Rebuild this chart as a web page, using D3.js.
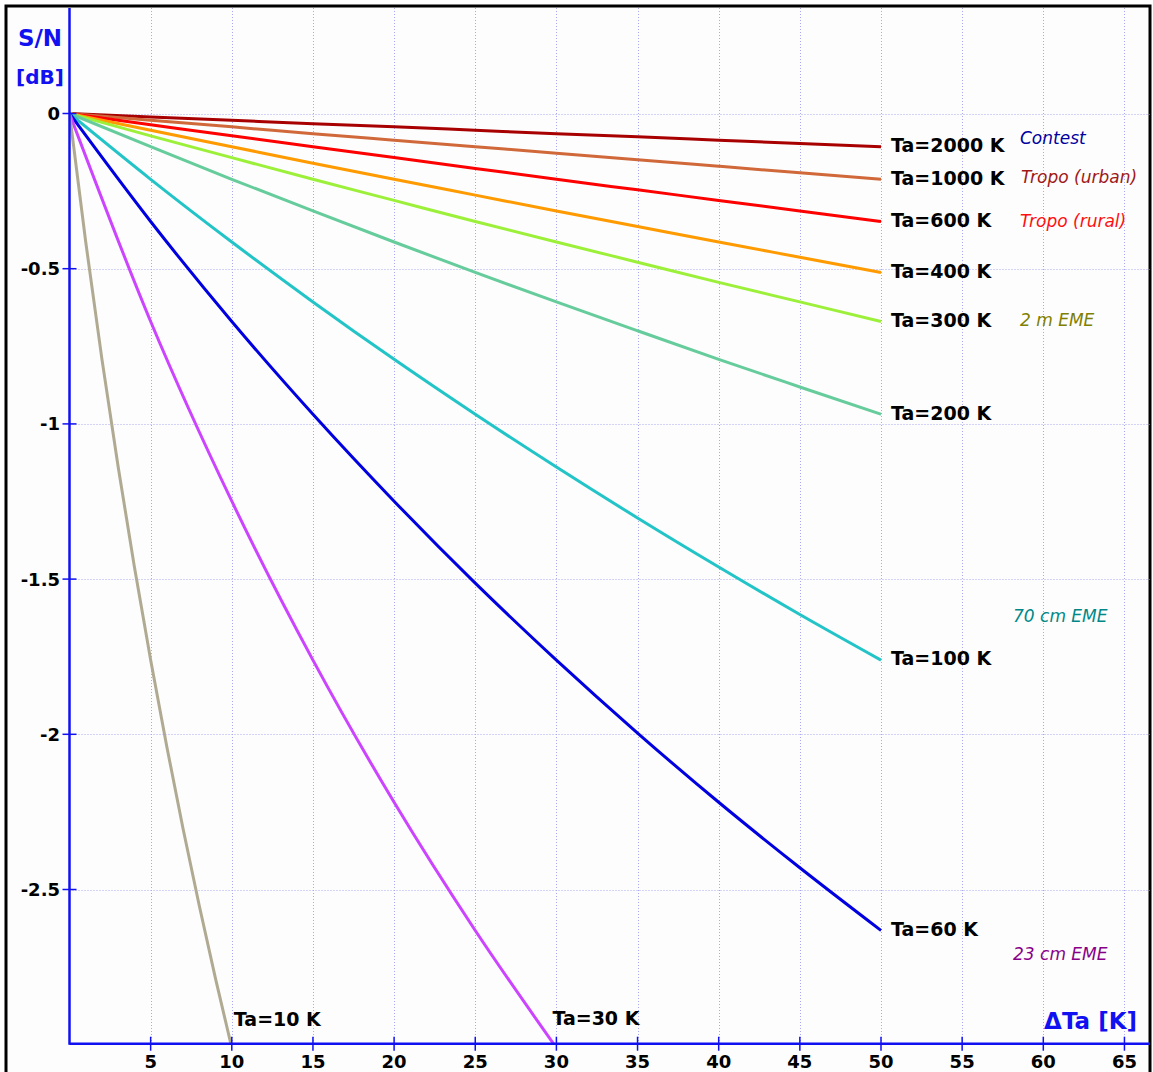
<!DOCTYPE html>
<html>
<head>
<meta charset="utf-8">
<script src="https://cdn.jsdelivr.net/npm/d3@7"></script>
<style>
  body { margin: 0; background: #fff; }
  svg { display: block; }
</style>
</head>
<body>
<div id="chart"></div>
<script>
// Data (S/N loss in dB vs added noise dTa in K)
const dTa = [0, 5, 10, 15, 20, 25, 30, 35, 40, 45, 50];
const dTa10 = [0, 1, 2, 3, 4, 5, 6, 7, 8, 9, 10];
const dTa30 = [0, 5, 10, 15, 20, 25, 30];

const sn2000 = [0, -0.011, -0.022, -0.033, -0.043, -0.054, -0.065, -0.075, -0.086, -0.097, -0.107];
const sn1000 = [0, -0.022, -0.043, -0.065, -0.086, -0.107, -0.128, -0.149, -0.170, -0.191, -0.212];
const sn600 = [0, -0.036, -0.072, -0.107, -0.142, -0.177, -0.212, -0.246, -0.280, -0.314, -0.348];
const sn400 = [0, -0.054, -0.107, -0.160, -0.212, -0.263, -0.314, -0.364, -0.414, -0.463, -0.512];
const sn300 = [0, -0.072, -0.142, -0.212, -0.280, -0.348, -0.414, -0.479, -0.544, -0.607, -0.670];
const sn200 = [0, -0.107, -0.212, -0.314, -0.414, -0.512, -0.607, -0.700, -0.792, -0.881, -0.969];
const sn100 = [0, -0.212, -0.414, -0.607, -0.792, -0.969, -1.139, -1.303, -1.461, -1.614, -1.761];
const sn60 = [0, -0.348, -0.670, -0.969, -1.249, -1.513, -1.761, -1.996, -2.219, -2.430, -2.632];
const sn30 = [0, -0.670, -1.249, -1.761, -2.219, -2.632, -3.010];
const sn10 = [0, -0.414, -0.792, -1.139, -1.461, -1.761, -2.041, -2.305, -2.553, -2.788, -3.010];

const curveNames = ["Ta=2000 K", "Ta=1000 K", "Ta=600 K", "Ta=400 K", "Ta=300 K",
                    "Ta=200 K", "Ta=100 K", "Ta=60 K", "Ta=30 K", "Ta=10 K"];
const curveColors = ["#a80000", "#d0683a", "#ff0000", "#ff9a00", "#9cf03a",
                     "#66cc9c", "#22c4c8", "#0000e0", "#cc44ff", "#b0aa92"];

const xTicks = [5, 10, 15, 20, 25, 30, 35, 40, 45, 50, 55, 60, 65];
const yTicks = [0, -0.5, -1, -1.5, -2, -2.5];
const yTickLabels = ["0", "-0.5", "-1", "-1.5", "-2", "-2.5"];

const notes = ["Contest", "Tropo (urban)", "Tropo (rural)", "2 m EME", "70 cm EME", "23 cm EME"];
const noteColors = ["#0000a0", "#a01818", "#ff1010", "#808000", "#008888", "#880088"];
const noteX = [1020, 1021, 1020, 1020, 1013, 1013];
const noteY = [138, 177, 221, 320, 616, 954];

const W = 1153, H = 1072;
const svg = d3.select("#chart").append("svg")
    .attr("width", W)
    .attr("height", H);

// frame
svg.append("rect")
    .attr("x", 6).attr("y", 6)
    .attr("width", 1144).attr("height", 1100)
    .attr("fill", "#fcfdfc")
    .attr("stroke", "#000")
    .attr("stroke-width", 3);

const x = d3.scaleLinear().domain([0, 50]).range([69.5, 881]);
const y = d3.scaleLinear().domain([0, -2.5]).range([113.5, 889.5]);
const yBottom = y(-3);
const xRight = 1150;

svg.append("clipPath").attr("id", "plot")
    .append("rect")
    .attr("x", x(0)).attr("y", 8)
    .attr("width", xRight - x(0)).attr("height", yBottom - 8);

// grid
const grid = svg.append("g")
    .attr("stroke", "#a8a8f0")
    .attr("stroke-width", 1)
    .attr("stroke-dasharray", "1,2");
grid.selectAll(".vg").data(xTicks).enter().append("line")
    .attr("x1", d => Math.round(x(d)) + 0.5).attr("x2", d => Math.round(x(d)) + 0.5)
    .attr("y1", 8).attr("y2", yBottom);
grid.selectAll(".hg").data(yTicks).enter().append("line")
    .attr("x1", x(0)).attr("x2", xRight)
    .attr("y1", d => Math.round(y(d)) + 0.5).attr("y2", d => Math.round(y(d)) + 0.5);

// curves
const series = [
    [dTa, sn2000], [dTa, sn1000], [dTa, sn600], [dTa, sn400], [dTa, sn300],
    [dTa, sn200], [dTa, sn100], [dTa, sn60], [dTa30, sn30], [dTa10, sn10]
];
const line = d3.line()
    .x(d => x(d[0]))
    .y(d => y(d[1]))
    .curve(d3.curveMonotoneX);

svg.append("g").attr("clip-path", "url(#plot)")
    .selectAll("path")
    .data(series)
    .enter()
    .append("path")
    .attr("d", s => line(s[0].map((v, i) => [v, s[1][i]])))
    .attr("fill", "none")
    .attr("stroke", (s, i) => curveColors[i])
    .attr("stroke-width", 3)
    .attr("stroke-linejoin", "round");

// axes
const axisColor = "#1010f0";
svg.append("line")
    .attr("x1", x(0)).attr("x2", x(0))
    .attr("y1", 8).attr("y2", yBottom)
    .attr("stroke", axisColor).attr("stroke-width", 2.5);
svg.append("line")
    .attr("x1", x(0)).attr("x2", xRight)
    .attr("y1", yBottom - 1).attr("y2", yBottom - 1)
    .attr("stroke", axisColor).attr("stroke-width", 2.5);

svg.selectAll(".yt").data(yTicks).enter().append("line")
    .attr("x1", x(0) - 7).attr("x2", x(0) + 7)
    .attr("y1", d => y(d)).attr("y2", d => y(d))
    .attr("stroke", axisColor).attr("stroke-width", 1.5);
svg.selectAll(".xt").data(xTicks).enter().append("line")
    .attr("x1", d => x(d)).attr("x2", d => x(d))
    .attr("y1", yBottom - 8).attr("y2", yBottom + 6)
    .attr("stroke", axisColor).attr("stroke-width", 1.5);

// tick labels
const font = "DejaVu Sans, Verdana, sans-serif";
svg.selectAll(".yl").data(yTicks).enter().append("text")
    .attr("x", 60).attr("y", d => y(d))
    .attr("dy", "0.36em")
    .attr("text-anchor", "end")
    .attr("font-family", font)
    .attr("font-weight", "bold")
    .attr("font-size", 18)
    .attr("fill", "#000")
    .text((d, i) => yTickLabels[i]);
svg.selectAll(".xl").data(xTicks).enter().append("text")
    .attr("x", d => x(d)).attr("y", 1068)
    .attr("text-anchor", "middle")
    .attr("font-family", font)
    .attr("font-weight", "bold")
    .attr("font-size", 18)
    .attr("fill", "#000")
    .text(d => d);

// axis titles
svg.append("text")
    .attr("x", 40).attr("y", 46)
    .attr("text-anchor", "middle")
    .attr("font-family", font).attr("font-weight", "bold")
    .attr("font-size", 23).attr("fill", axisColor)
    .text("S/N");
svg.append("text")
    .attr("x", 40).attr("y", 84)
    .attr("text-anchor", "middle")
    .attr("font-family", font).attr("font-weight", "bold")
    .attr("font-size", 20).attr("fill", axisColor)
    .text("[dB]");
svg.append("text")
    .attr("x", 1137).attr("y", 1029)
    .attr("text-anchor", "end")
    .attr("font-family", font).attr("font-weight", "bold")
    .attr("font-size", 23).attr("fill", axisColor)
    .text("\u0394Ta [K]");

// curve labels at the end of each line
const labelPos = series.map((s, i) => {
    const xs = s[0], ys = s[1];
    const n = xs.length - 1;
    if (i < 8) return [x(xs[n]) + 10, y(ys[n]) - 1.5];
    if (i === 8) return [x(xs[n]) - 4, yBottom - 27];
    return [x(xs[n]) + 2, yBottom - 26];
});
svg.selectAll(".cl").data(curveNames).enter().append("text")
    .attr("x", (d, i) => labelPos[i][0])
    .attr("y", (d, i) => labelPos[i][1])
    .attr("dy", "0.36em")
    .attr("font-family", font)
    .attr("font-weight", "bold")
    .attr("font-size", 19)
    .attr("fill", "#000")
    .text(d => d);

// band notes
svg.selectAll(".nt").data(notes).enter().append("text")
    .attr("x", (d, i) => noteX[i])
    .attr("y", (d, i) => noteY[i])
    .attr("dy", "0.36em")
    .attr("font-family", font)
    .attr("font-style", "italic")
    .attr("font-size", 17)
    .attr("fill", (d, i) => noteColors[i])
    .text(d => d);
</script>
</body>
</html>
